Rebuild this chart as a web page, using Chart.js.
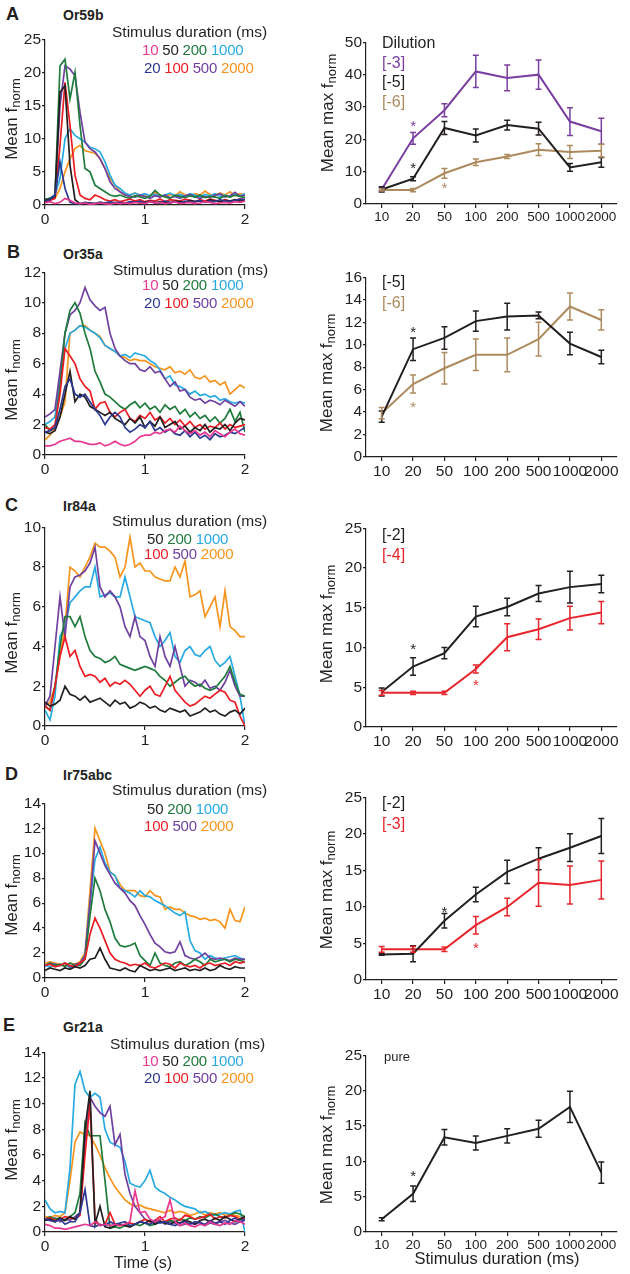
<!DOCTYPE html>
<html>
<head>
<meta charset="utf-8">
<script src="https://cdn.jsdelivr.net/npm/chart.js@4.4.0/dist/chart.umd.min.js"></script>
<style>
  body{margin:0;background:#fff;}
  #fig{position:relative;width:630px;height:1274px;overflow:hidden;font-family:'Liberation Sans',Arial,sans-serif;color:#231f20;}
  canvas{position:absolute;}
  .t{position:absolute;white-space:nowrap;line-height:1;}
  .let{font-weight:bold;font-size:18px;}
  .ttl{font-weight:bold;font-size:14px;}
  .stim{font-size:15.5px;}
  .leg{font-size:15px;letter-spacing:-0.2px;}
  .dil{font-size:16px;}
  .yl{position:absolute;transform:translate(-50%,-50%) rotate(-90deg);font-size:17px;white-space:nowrap;line-height:1;}
  .yl sub{font-size:13px;vertical-align:-3px;}
</style>
</head>
<body>
<div id="fig">
  <!-- trace panels (left) -->
  <canvas id="tA" width="255" height="201" style="left:0;top:29px"></canvas>
  <canvas id="tB" width="255" height="218" style="left:0;top:262px"></canvas>
  <canvas id="tC" width="255" height="234" style="left:0;top:517px"></canvas>
  <canvas id="tD" width="255" height="210" style="left:0;top:793px"></canvas>
  <canvas id="tE" width="255" height="215" style="left:0;top:1042px"></canvas>
  <!-- dose panels (right) -->
  <canvas id="dA" width="303" height="197" style="left:326px;top:32px"></canvas>
  <canvas id="dB" width="303" height="215" style="left:326px;top:267px"></canvas>
  <canvas id="dC" width="303" height="234" style="left:326px;top:518px"></canvas>
  <canvas id="dD" width="303" height="218" style="left:326px;top:787px"></canvas>
  <canvas id="dE" width="303" height="212" style="left:326px;top:1045px"></canvas>

  <!-- panel letters + receptor names -->
  <div class="t let" style="left:6px;top:5px">A</div>
  <div class="t ttl" style="left:63px;top:8px">Or59b</div>
  <div class="t let" style="left:7px;top:243px">B</div>
  <div class="t ttl" style="left:63px;top:247px">Or35a</div>
  <div class="t let" style="left:5px;top:496px">C</div>
  <div class="t ttl" style="left:63px;top:499px">Ir84a</div>
  <div class="t let" style="left:5px;top:765px">D</div>
  <div class="t ttl" style="left:63px;top:768px">Ir75abc</div>
  <div class="t let" style="left:3px;top:1016px">E</div>
  <div class="t ttl" style="left:63px;top:1020px">Gr21a</div>

  <!-- stimulus legends -->
  <div class="t stim" style="left:112px;top:24px">Stimulus duration (ms)</div>
  <div class="t leg" style="left:142px;top:42px"><span style="color:#e8388f">10</span> 50 <span style="color:#1e7b3c">200</span> <span style="color:#27aae1">1000</span></div>
  <div class="t leg" style="left:144px;top:60px"><span style="color:#2b3990">20</span> <span style="color:#ec1c24">100</span> <span style="color:#7040a0">500</span> <span style="color:#f7941d">2000</span></div>

  <div class="t stim" style="left:113px;top:262px">Stimulus duration (ms)</div>
  <div class="t leg" style="left:142px;top:277px"><span style="color:#e8388f">10</span> 50 <span style="color:#1e7b3c">200</span> <span style="color:#27aae1">1000</span></div>
  <div class="t leg" style="left:144px;top:295px"><span style="color:#2b3990">20</span> <span style="color:#ec1c24">100</span> <span style="color:#7040a0">500</span> <span style="color:#f7941d">2000</span></div>

  <div class="t stim" style="left:112px;top:513px">Stimulus duration (ms)</div>
  <div class="t leg" style="left:147px;top:531px">50 <span style="color:#1e7b3c">200</span> <span style="color:#27aae1">1000</span></div>
  <div class="t leg" style="left:144px;top:546px"><span style="color:#ec1c24">100</span> <span style="color:#7040a0">500</span> <span style="color:#f7941d">2000</span></div>

  <div class="t stim" style="left:112px;top:782px">Stimulus duration (ms)</div>
  <div class="t leg" style="left:147px;top:801px">50 <span style="color:#1e7b3c">200</span> <span style="color:#27aae1">1000</span></div>
  <div class="t leg" style="left:144px;top:818px"><span style="color:#ec1c24">100</span> <span style="color:#7040a0">500</span> <span style="color:#f7941d">2000</span></div>

  <div class="t stim" style="left:110px;top:1036px">Stimulus duration (ms)</div>
  <div class="t leg" style="left:142px;top:1053px"><span style="color:#e8388f">10</span> 50 <span style="color:#1e7b3c">200</span> <span style="color:#27aae1">1000</span></div>
  <div class="t leg" style="left:144px;top:1070px"><span style="color:#2b3990">20</span> <span style="color:#ec1c24">100</span> <span style="color:#7040a0">500</span> <span style="color:#f7941d">2000</span></div>

  <!-- dilution legends -->
  <div class="t dil" style="left:382px;top:35px">Dilution</div>
  <div class="t dil" style="left:382px;top:55px;color:#7a3fa0">[-3]</div>
  <div class="t dil" style="left:382px;top:74px">[-5]</div>
  <div class="t dil" style="left:382px;top:94px;color:#ad8a5e">[-6]</div>
  <div class="t dil" style="left:382px;top:274px">[-5]</div>
  <div class="t dil" style="left:382px;top:295px;color:#ad8a5e">[-6]</div>
  <div class="t dil" style="left:382px;top:527px">[-2]</div>
  <div class="t dil" style="left:382px;top:547px;color:#e8252c">[-4]</div>
  <div class="t dil" style="left:382px;top:795px">[-2]</div>
  <div class="t dil" style="left:382px;top:816px;color:#e8252c">[-3]</div>
  <div class="t" style="left:384px;top:1050px;font-size:13px">pure</div>

  <!-- axis titles -->
  <div class="yl" style="left:12px;top:119px">Mean f<sub>norm</sub></div>
  <div class="yl" style="left:12px;top:380px">Mean f<sub>norm</sub></div>
  <div class="yl" style="left:12px;top:633px">Mean f<sub>norm</sub></div>
  <div class="yl" style="left:12px;top:895px">Mean f<sub>norm</sub></div>
  <div class="yl" style="left:12px;top:1140px">Mean f<sub>norm</sub></div>
  <div class="yl" style="left:328px;top:113px">Mean max f<sub>norm</sub></div>
  <div class="yl" style="left:327px;top:373px">Mean max f<sub>norm</sub></div>
  <div class="yl" style="left:327px;top:624px">Mean max f<sub>norm</sub></div>
  <div class="yl" style="left:327px;top:890px">Mean max f<sub>norm</sub></div>
  <div class="yl" style="left:327px;top:1145px">Mean max f<sub>norm</sub></div>
  <div class="t" style="left:143px;top:1255px;font-size:16px;transform:translateX(-50%)">Time (s)</div>
  <div class="t" style="left:497px;top:1250px;font-size:16.5px;transform:translateX(-50%)">Stimulus duration (ms)</div>
</div>

<script>
// time base of the traces (s)
const T = [0,0.05,0.1,0.15,0.2,0.25,0.3,0.35,0.4,0.45,0.5,0.55,0.6,0.65,0.7,0.75,0.8,0.85,0.9,0.95,1,1.05,1.1,1.15,1.2,1.25,1.3,1.35,1.4,1.45,1.5,1.55,1.6,1.65,1.7,1.75,1.8,1.85,1.9,1.95,2];

// A - Or59b
const A10   = [0.3,0.5,0.2,0.4,1.0,0.7,0.3,0.2,0.3,0.1, 0.2,0.3,0.2,0.1,0.3,0.2,0.3,0.2,0.4,0.3, 0.2,0.5,0.3,0.4,0.2,0.3,0.5,0.2,0.3,0.4, 0.2,0.3,0.5,0.4,0.2,0.3,0.4,0.3,0.5,0.4, 0.6];
const A20   = [0.6,0.8,1.5,6.5,2.5,0.4,0.2,0.2,0.4,0.3, 0.2,0.4,0.3,0.5,0.3,0.4,0.3,0.5,0.4,0.6, 0.3,0.5,0.4,0.3,0.6,0.4,0.5,0.3,0.6,0.4, 0.5,0.7,0.4,0.6,0.5,0.8,0.6,0.5,0.7,0.9, 0.8];
const A50   = [0.7,0.9,1.3,17,18,6,0.8,0.2,0.2,0.3, 0.2,0.4,0.3,0.2,0.4,0.3,0.2,0.4,0.5,0.3, 0.4,0.6,0.3,0.5,0.4,0.3,0.6,0.5,0.4,0.7, 0.5,0.6,0.4,0.8,0.6,0.5,0.7,0.6,0.8,0.6, 0.7];
const A100  = [0.5,0.7,1.0,9,18.5,12,4.5,1.5,1.0,0.8, 1.5,1.2,0.8,0.6,0.8,0.5,0.7,0.9,0.6,0.8, 0.5,0.7,0.6,0.9,0.5,0.8,0.7,0.6,0.9,0.7, 0.5,0.8,0.6,0.9,0.7,0.5,0.8,0.6,0.7,0.9, 0.8];
const A200  = [0.8,1.0,1.5,21,22,16,20,12,5.5,5, 3,2.5,2,1.5,1.3,1.5,1.2,1.0,1.4,1.2, 1.0,1.3,2.2,1.5,1.2,1.0,1.5,1.3,1.1,1.4, 1.2,1.5,1.1,1.3,1.2,1.0,1.4,1.2,1.5,1.3, 1.1];
const A500  = [0.8,1.0,1.5,15,21,20.5,19.5,14,9.5,8.5, 8,7,5.5,3.5,2.5,2,1.5,1.3,1.2,1.5, 1.3,1.0,1.4,1.2,1.5,1.1,1.3,1.0,1.4,1.6, 1.2,1.0,1.3,1.1,1.5,1.7,1.2,1.4,1.9,1.3, 1.5];
const A1000 = [0.8,1.0,1.5,4,10,11.5,10.5,10,9.5,8.7, 8.5,8,6.5,4.5,3,2.5,1.8,1.5,1.8,1.5, 1.7,1.4,1.6,1.3,1.5,1.8,1.4,1.6,1.3,1.7, 1.5,1.2,1.6,1.4,1.7,1.3,1.5,1.2,1.6,1.4, 1.7];
const A2000 = [0.5,0.8,1.0,2.5,5,7,8.5,9,8.2,8, 7.8,7,5.5,4,3,2,1.5,1.5,1.8,1.3, 1.6,1.4,1.9,1.5,1.2,1.6,1.4,2.0,1.5,1.3, 1.7,1.5,2.1,1.6,1.3,1.8,1.5,2.0,1.4,1.7, 1.5];

// B - Or35a
const B10   = [0.6,0.6,0.7,0.9,1.0,1.1,0.9,0.9,0.8,0.7, 0.7,0.8,0.6,0.7,0.9,0.7,0.6,0.7,0.9,1.2, 1.3,1.3,1.5,1.4,1.6,1.7,1.5,1.9,1.6,1.4, 1.6,1.3,1.5,1.2,1.6,1.4,1.2,1.5,1.7,1.4, 1.3];
const B20   = [1.5,1.6,1.8,3,4.5,5,4,3.8,4,3.5, 3,2.6,2,2.5,2.8,2.5,1.8,1.5,1.7,2, 1.8,2.2,1.6,1.8,1.5,1.7,1.4,1.3,1.6,1.2, 1.5,1.1,1.3,1.0,1.4,1.2,1.3,1.5,1.4,1.6, 1.8];
const B50   = [1.5,1.4,1.6,2.5,4,5.5,3.5,4,3.8,3.2, 3,2.8,2.6,2.8,2.4,2.2,2,2.4,2.1,2.5, 1.8,2.2,1.9,2.5,1.8,2.0,2.2,1.7,1.9,1.5, 1.8,1.6,2.0,1.5,1.8,1.7,2.0,1.6,2.1,2.4, 2.3];
const B100  = [1.8,1.7,2,4,7,6.5,6,5,4.5,4.2, 3,3.4,3.5,2.8,2.5,2.8,3,2.4,2.2,2.6, 2.4,2.8,2.3,2.5,2.1,2.4,2,2.3,1.9,2.2, 1.8,2,1.7,1.9,1.8,2.1,1.7,2,1.8,1.9, 2];
const B200  = [2,1.6,1.8,4.5,8,9.5,10,9.3,8,7, 5.5,4.8,4,3.8,3.5,3.2,3,3.3,3.5,3.1, 3.4,3,3.2,2.8,3.3,3,3.2,2.7,3,2.5, 2.8,2.4,2.6,2.2,2.5,2.1,2.4,3,2.2,2.8, 1.5];
const B500  = [2.5,2.7,3,5.5,8,9.2,9.5,10,11,10.2, 9.8,9.5,9.7,8,7,6.5,6.2,6,6,5.6, 5.5,5.8,5.4,5.5,5,4.5,4.8,4.2,4.3,3.8, 3.6,3.7,3.4,3.6,3.5,3.3,3.6,3.4,3.2,3.5, 3.2];
const B1000 = [2,2.2,2.5,5,7,8,8.2,8.5,8.4,8.2, 8,7.7,7.2,7,6.8,6.5,6.6,6.4,6.7,6.6, 6.5,6.2,6,5.6,5,5.2,4.6,4.5,4.3,4, 4.2,3.9,4,3.8,3.9,3.6,3.7,3.5,3.4,3.5, 3.4];
const B2000 = [1,1.3,1.8,2.5,3.5,8,8.2,8.5,8.5,8.2, 8,7.8,7.2,7,6.8,6.5,6.4,6.2,6.3,6.2, 6.2,6,5.8,5.7,5.6,5.8,5.4,5.5,5.3,5.6, 5.1,5,5.2,4.8,4.9,4.6,4.8,4,4.3,4.6, 4.4];

// C - Ir84a
const C50   = [1.2,1,1.1,1.3,2,1.6,1.5,1.3,1.5,1.2, 1.3,1.4,1.2,1,1.3,1.1,1.2,0.9,1.0,1.2, 1.1,0.9,1.0,0.8,0.7,0.9,0.8,0.7,0.8,0.5, 0.6,0.7,0.9,0.7,0.8,0.6,0.5,0.7,0.8,0.6, 0.9];
const C100  = [1,0.8,2,3.5,4.5,3.5,3.8,3,2.5,2.6, 2.5,2.2,2.4,2,2.2,2.1,2.3,2.1,1.8,1.5, 1.8,2,1.6,1.5,2,2.5,1.8,1.5,1.2,1.0, 1.1,1.3,1.5,1.4,1.6,1.8,1.7,1.3,1.2,0.5, 0];
const C200  = [1,0.8,2,4,5.5,5.5,5,5.5,4.5,3.8, 3.5,3.4,3.2,3.3,3.5,3.1,3,2.9,2.8,2.9, 3,2.9,2.8,2.5,2.3,2,2.2,2.4,2.5,2.2, 2,2.1,1.9,1.8,1.9,2.2,2.5,3,2.2,1.6, 1.5];
const C500  = [1,1.5,4,6.5,4.5,7,7.5,7.6,7.8,8.2, 9,7,6.5,6.8,6.5,6,5,4.5,5.5,4.5, 4.3,3.5,3,4.5,3.5,3,4,3,2,2.3, 2.2,2,2.3,1.9,2,1.8,2.2,2.8,2,1.5, 1.5];
const C1000 = [0.8,0.3,1.5,4.5,5,6.2,6.5,6.8,7,7, 8,6.5,6.6,6.7,6.5,6.5,7.5,6.5,5.5,5.4, 5.3,5.2,4.5,4,4.3,4.7,3.5,3.2,3.8,4, 3.6,3.5,3.8,4,3.3,3,3.2,3.5,2.5,1.5, 0];
const C2000 = [1,1.2,2,3.5,5,8,7.8,7.5,8,8.5, 9.2,9,9,8.8,8.5,7.5,8,9.5,8,8.2, 7.8,7.8,7.5,7.4,7.3,7.3,8,7.5,8.3,6.5, 6.6,6.8,5.5,6,6.5,5,6.8,5,4.8,4.5, 4.5];

// D - Ir75abc
const D50   = [0.6,0.8,0.7,0.6,0.8,0.7,0.9,0.8,1.0,1.5, 1.6,2.4,1.5,0.8,0.7,0.6,0.8,0.6,0.5,1, 0.8,0.6,0.7,0.6,0.7,0.8,0.6,0.7,0.8,0.6, 0.7,0.6,0.8,0.6,0.7,1.0,0.8,0.7,0.9,0.8, 0.8];
const D100  = [1,1.1,0.9,1,1.2,1,0.9,1.2,1.5,3.5, 4.8,4,3,2,1.5,1.3,1.2,1.0,1.1,1.0, 1.2,0.9,0.8,1.0,1.2,1.1,0.8,1.2,1.0,0.9, 1.0,0.8,1.1,1.2,1.0,1.1,1.2,1.0,1.3,1.2, 1.3];
const D200  = [1,1.2,1,1.1,0.9,1.2,1,1,1.5,5, 8,7,5.5,4.5,3.2,2.6,2.5,2.6,2.8,1.8, 1.4,1,2,1.2,1,0.9,1.2,1.3,1,1.2, 1.5,1.3,1,1.5,1.3,1.4,1.5,1.3,1.5,1.4, 1.3];
const D500  = [1,1.2,1.1,1,1.2,0.9,1.1,1.2,1.8,6, 11,10,9,8.3,7.6,7.2,6.8,6.2,5.8,5, 4.3,3.5,2.8,2.5,2.1,2,2.1,2.9,1.8,1.6, 1.5,1.7,2,1.6,1.5,1.6,1.5,1.4,1.6,1.5, 1.5];
const D1000 = [1,0.9,1.1,1,1.2,0.8,1,1.1,1.8,6, 9.5,10.5,9.2,8.5,8.2,7.2,7,6.8,6.5,7, 6.6,6.5,6.2,6,5.8,5.5,5.2,5,5.3,3, 2.2,2,1.5,1.8,1.6,1.5,1.6,1.7,1.8,1.6, 1.5];
const D2000 = [1.2,1.3,1.2,1.1,1.0,1.2,1.1,1.3,2,7, 12,11,10,8.5,8.2,7.5,7,7,7,6.6, 6.5,7,6.6,6.5,5.5,5.7,5.5,5.5,5.2,5, 4.9,4.7,4.8,4.6,4.7,4.5,4,5.5,4.6,4.5, 5.7];

// E - Gr21a
const E10   = [0.6,0.5,0.3,0.3,0.2,0.3,0.4,0.5,0.6,0.5, 0.8,0.5,0.6,0.5,0.6,0.5,0.6,0.8,3.2,1.5, 1.6,1.0,0.8,1.0,1.2,2.5,0.8,0.5,0.7,0.5, 0.4,0.6,0.5,0.8,0.6,0.5,0.7,0.6,0.9,0.8, 0.6];
const E20   = [1,0.9,0.8,1,0.6,0.8,0.8,1.5,3.3,0.5, 0.4,0.6,0.5,0.8,0.6,0.7,0.8,0.5,0.6,0.8, 0.7,0.6,0.9,0.7,0.8,0.6,0.5,0.7,0.8,0.6, 0.8,0.7,0.6,0.9,0.7,0.8,0.6,0.9,1.1,0.8, 1.0];
const E50   = [0.9,1.0,0.8,1.1,0.9,1.2,1.0,1.5,8,11, 0.6,2,0.4,0.3,0.5,0.6,0.5,0.4,0.6,0.8, 0.7,0.9,0.6,0.8,0.7,0.6,0.8,0.7,0.9,0.8, 0.6,0.9,1.0,0.8,1.1,0.9,1.2,1.0,0.8,1.0, 1.2];
const E100  = [1,1.1,0.9,1.0,1.2,1.1,1.0,1.3,6,10, 1,0.5,0.6,1.5,0.6,0.5,0.6,0.7,0.6,0.8, 1.0,0.8,0.9,1.2,0.8,1.0,1.1,0.9,1.3,1.2, 1.0,1.1,1.2,1.4,1.0,1.2,1.1,1.3,1.2,1.0, 1.1];
const E200  = [1,1.2,1,1.1,0.9,1.2,1.5,3,8.5,7.5, 7.5,7.5,4,0.3,0.4,0.3,0.5,0.4,0.6,0.5, 0.7,0.5,0.6,0.8,0.7,0.9,0.8,1.0,0.9,1.1, 1.0,1.2,1.1,1.3,1.4,1.2,1.1,1.3,1.5,1.4, 1.2];
const E500  = [1,0.9,1.1,0.8,1.0,0.9,1.2,1.5,7,10.5, 9.8,9.3,9,9.8,6.8,7.6,4.5,3,2,1.5, 1.0,0.8,0.7,0.9,0.6,0.8,0.7,0.5,0.6,0.7, 0.6,0.8,0.5,0.7,0.6,0.8,0.9,0.7,0.6,0.8, 0.9];
const E1000 = [2.5,1.8,1.5,1.6,1.5,5,11.5,12.5,11,10.5, 10.8,10.5,8,7,6.8,6.6,5.5,3.8,3.6,3.5, 4,4.8,3.5,3.2,3,2.7,2.5,2.2,2,1.9, 1.8,1.5,1.6,1.4,1.3,1.4,1.5,1.4,1.6,1.7, 0];
const E2000 = [1.2,1.1,1.3,1.2,1.5,4,7,7.8,7.6,7.5, 6.8,6,5,4.2,3.5,3,2.5,2.2,2,2.1, 1.9,1.8,1.7,1.6,1.5,1.7,1.5,1.6,1.5,1.3, 1.4,1.6,1.3,1.5,1.4,1.5,1.3,1.4,1.3,1.2, 1.2];

// dose-response: stimulus durations (ms) and mean max fnorm +/- error
const DUR = ['10','20','50','100','200','500','1000','2000'];
const dA3 = [4.5,20.3,29,41,39,40,25.5,22.5];     const eA3 = [0.5,1.8,2,5,4,4.5,4.3,4];
const dA5 = [4.5,7.8,23.5,21.2,24.4,23.3,11.3,12.9]; const eA5 = [0.8,0.6,2,2,1.5,2,1.2,1.5];
const dA6 = [4.3,4.3,9.5,12.9,14.7,16.8,16.1,16.5]; const eA6 = [0.3,0.5,1.5,1,0.6,1.8,2,2];
const dB5 = [3.6,9.6,10.6,12.1,12.5,12.6,10.1,8.9]; const eB5 = [0.5,1,1,0.9,1.2,0.3,1,0.6];
const dB6 = [3.9,6.5,7.9,9.1,9.1,10.5,13.4,12.2];   const eB6 = [0.5,0.8,1.4,1.4,1.5,1.5,1.2,0.9];
const dC2 = [4.4,7.6,9.3,13.9,15.1,16.8,17.6,18];   const eC2 = [0.5,1.1,0.7,1.3,1.1,1,2,1.1];
const dC4 = [4.3,4.3,4.3,7.3,11.3,12.3,13.7,14.4];  const eC4 = [0.3,0.2,0.2,0.5,1.7,1.3,1.5,1.4];
const dD2 = [3.5,3.6,8.1,11.7,14.8,16.6,18.1,19.7]; const eD2 = [0.1,1.1,1,1,1.6,1.5,1.9,2.4];
const dD3 = [4.2,4.2,4.2,7.5,10,13.3,13,13.7];      const eD3 = [0.4,0.4,0.3,1.2,1.2,3.2,2.6,2.6];
const dEp = [1.8,5.4,13.4,12.6,13.6,14.6,17.7,8.4]; const eEp = [0.2,1.1,1.1,1,1,1.2,2.2,1.5];

// significance stars: [dataset, duration index, value]
const starsA = [[0,1,25.1],[1,1,12.2],[2,2,5.9]];
const starsB = [[0,1,11.4],[1,1,4.8]];
const starsC = [[0,1,10.3],[1,3,5.75]];
const starsD = [[0,2,9.8],[1,3,4.9]];
const starsE = [[0,1,8.4]];

const F = "'Liberation Sans', Arial, sans-serif";
const INK = '#231f20';
const COL = {'10':'#e8388f','20':'#2b3990','50':'#231f20','100':'#ec1c24','200':'#1e7b3c','500':'#7040a0','1000':'#27aae1','2000':'#f7941d'};
const PURPLE = '#7a3fa0', TAN = '#ad8a5e', RED = '#e8252c';

function yAxis(max, step, size){
  return {
    min:0, max:max,
    ticks:{stepSize:step, color:INK, font:{family:F,size:size}, padding:1},
    grid:{drawOnChartArea:false, tickLength:3, color:INK, tickColor:INK, lineWidth:1.2},
    border:{color:INK, width:1.2},
    afterFit:s=>{ s.width = s.chart.canvas.id[0]==='t' ? 45 : 40; }
  };
}

function xGrid(){
  return {drawOnChartArea:false, tickLength:4, color:INK, tickColor:INK, lineWidth:1.2};
}

function traceChart(id, yMax, yStep, names, series){
  new Chart(document.getElementById(id), {
    type:'line',
    data:{datasets: names.map((n,k)=>({
      data: T.map((t,i)=>({x:t, y:series[k][i]})),
      borderColor:COL[n], borderWidth:1.7, pointRadius:0, tension:0, fill:false
    }))},
    options:{
      responsive:false, animation:false, events:[],
      layout:{padding:{top:10,right:10,left:0,bottom:0}},
      plugins:{legend:{display:false}, tooltip:{enabled:false}},
      scales:{
        x:{type:'linear', min:0, max:2,
           ticks:{stepSize:1, color:INK, font:{family:F,size:15.5}, padding:1, maxRotation:0},
           grid:xGrid(), border:{color:INK,width:1.2},
           afterFit:s=>{ s.height = 25; }},
        y:yAxis(yMax, yStep, 15.5)
      }
    }
  });
}

// error bars + asterisks, placed through the chart scales
const errPlugin = {
  id:'errBars',
  afterDatasetsDraw(chart, args, opts){
    const ctx = chart.ctx, xs = chart.scales.x, ys = chart.scales.y;
    chart.data.datasets.forEach(ds=>{
      ctx.save();
      ctx.strokeStyle = ds.borderColor; ctx.lineWidth = 1.5;
      ds.data.forEach((v,i)=>{
        const px = xs.getPixelForValue(i);
        const top = ys.getPixelForValue(v + ds.err[i]);
        const bot = ys.getPixelForValue(v - ds.err[i]);
        ctx.beginPath();
        ctx.moveTo(px, top); ctx.lineTo(px, bot);
        ctx.moveTo(px-3, top); ctx.lineTo(px+3, top);
        ctx.moveTo(px-3, bot); ctx.lineTo(px+3, bot);
        ctx.stroke();
      });
      ctx.restore();
    });
    (opts.stars || []).forEach(s=>{
      const ds = chart.data.datasets[s[0]];
      ctx.save();
      ctx.fillStyle = ds.borderColor;
      ctx.font = '15px ' + F;
      ctx.textAlign = 'center';
      ctx.textBaseline = 'alphabetic';
      ctx.fillText('*', xs.getPixelForValue(s[1]), ys.getPixelForValue(s[2]) + 8.5);
      ctx.restore();
    });
  }
};

function doseChart(id, yMax, yStep, xSize, lines, stars){
  new Chart(document.getElementById(id), {
    type:'line',
    data:{labels:DUR, datasets: lines.map(l=>({
      data:l[0], err:l[1], borderColor:l[2], borderWidth:2, pointRadius:0, tension:0, fill:false
    }))},
    options:{
      responsive:false, animation:false, events:[],
      layout:{padding:{top:10,right:12,left:0,bottom:0}},
      plugins:{legend:{display:false}, tooltip:{enabled:false}, errBars:{stars:stars}},
      scales:{
        x:{type:'category', offset:true,
           ticks:{color:INK, font:{family:F,size:xSize}, padding:1, maxRotation:0, autoSkip:false},
           grid:xGrid(), border:{color:INK,width:1.2},
           afterFit:s=>{ s.height = 25; }},
        y:yAxis(yMax, yStep, 15.5)
      }
    },
    plugins:[errPlugin]
  });
}

traceChart('tA', 25, 5, ['10','20','50','100','200','500','1000','2000'], [A10,A20,A50,A100,A200,A500,A1000,A2000]);
traceChart('tB', 12, 2, ['10','20','50','100','200','500','1000','2000'], [B10,B20,B50,B100,B200,B500,B1000,B2000]);
traceChart('tC', 10, 2, ['50','100','200','500','1000','2000'], [C50,C100,C200,C500,C1000,C2000]);
traceChart('tD', 14, 2, ['50','100','200','500','1000','2000'], [D50,D100,D200,D500,D1000,D2000]);
traceChart('tE', 14, 2, ['10','20','50','100','200','500','1000','2000'], [E10,E20,E50,E100,E200,E500,E1000,E2000]);

doseChart('dA', 50, 10, 13.5, [[dA3,eA3,PURPLE],[dA5,eA5,INK],[dA6,eA6,TAN]], starsA);
doseChart('dB', 16, 2, 15.5, [[dB5,eB5,INK],[dB6,eB6,TAN]], starsB);
doseChart('dC', 25, 5, 15.5, [[dC2,eC2,INK],[dC4,eC4,RED]], starsC);
doseChart('dD', 25, 5, 15.5, [[dD2,eD2,INK],[dD3,eD3,RED]], starsD);
doseChart('dE', 25, 5, 13.5, [[dEp,eEp,INK]], starsE);
</script>
</body>
</html>
